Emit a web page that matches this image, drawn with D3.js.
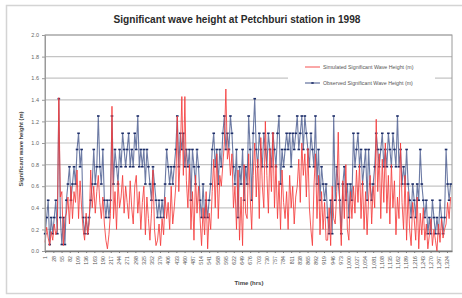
<!DOCTYPE html>
<html>
<head>
<meta charset="utf-8">
<script src="https://cdn.jsdelivr.net/npm/d3@7"></script>
<style>
  body { margin: 0; background: #fff; }
  svg { display: block; font-family: "Liberation Sans", Arial, sans-serif; }
</style>
</head>
<body>
<svg id="chart" width="462" height="298"></svg>
<script>
// hourly record, every 5 hours
const hours = d3.range(1, 1341, 5);

const observed = [
  0.16,0.31,0.47,0.06,0.31,0.16,0.31,0.47,0.16,
  1.41,0.31,
  0.06,0.31,0.06,
  0.47,0.62,0.78,0.47,0.62,0.78,
  0.62,0.94,1.09,0.78,0.94,
  0.31,0.16,0.31,0.16,0.31,
  0.47,0.62,0.94,0.62,0.78,
  1.25,
  0.78,0.62,0.94,
  0.47,0.31,0.47,0.31,0.47,
  1.25,
  0.62,0.94,0.78,0.62,0.94,
  0.78,1.09,0.94,0.78,0.94,1.09,0.78,
  0.94,0.78,1.09,0.94,1.25,0.78,0.94,0.78,0.94,
  0.62,0.94,0.78,0.62,
  0.47,0.78,0.62,0.47,
  0.31,0.47,0.31,0.47,0.31,
  0.62,0.94,0.78,0.62,0.78,0.62,0.78,
  0.94,1.25,0.78,1.09,0.94,1.09,0.78,0.94,
  0.78,0.94,0.47,0.94,0.78,0.62,0.94,0.78,
  0.47,0.31,0.62,0.31,0.47,0.31,0.47,0.62,
  0.94,1.09,0.78,0.94,0.62,0.94,0.78,
  1.09,1.25,0.94,1.09,0.94,1.25,1.09,
  0.78,0.62,0.94,0.31,0.78,0.62,0.94,0.47,0.78,
  0.62,1.25,0.94,0.47,1.09,
  1.41,
  0.94,0.78,1.09,0.94,0.78,1.09,0.94,
  0.78,1.09,0.94,0.78,1.09,0.94,0.78,1.09,1.25,
  0.62,0.94,0.78,
  0.94,1.09,0.94,1.09,0.78,1.09,0.94,1.09,
  1.25,0.94,1.09,1.25,0.94,1.25,1.09,0.94,
  0.78,1.09,0.94,0.78,1.25,
  0.62,0.94,0.47,0.78,0.62,0.47,0.62,
  0.31,0.16,0.47,0.16,1.25,
  0.47,0.78,0.62,0.47,0.16,0.62,0.78,0.47,0.62,
  0.31,0.62,0.47,
  1.09,0.78,0.94,1.09,0.78,
  0.94,0.62,0.78,0.94,
  0.47,0.94,0.62,0.47,0.62,
  0.78,1.09,0.94,0.78,0.94,1.09,0.78,0.94,0.78,1.09,
  0.94,0.78,1.09,0.94,0.78,1.25,
  0.78,0.94,0.62,0.78,0.62,0.94,0.62,
  0.47,0.31,0.62,0.47,0.31,0.62,0.47,0.94,0.62,0.47,
  0.31,0.47,0.16,0.31,0.16,0.47,0.31,0.16,0.31,0.16,0.47,0.31,0.16,0.31,
  0.94,0.62,0.47,0.62
];

const simulated = [
  0.08,0.22,0.12,0.05,0.18,0.10,0.25,0.15,0.20,
  1.42,0.50,
  0.55,0.05,0.30,
  0.35,0.50,0.25,0.60,0.30,0.55,
  0.45,0.75,0.30,0.65,0.40,
  0.20,0.10,0.35,0.15,0.25,
  0.75,0.40,0.60,0.35,0.55,
  0.70,
  0.45,0.30,0.50,
  0.25,0.10,0.02,0.15,0.35,
  1.34,
  0.30,0.55,0.20,0.65,0.40,
  0.50,0.70,0.35,0.60,0.45,0.30,0.65,
  0.40,0.25,0.60,0.70,0.35,0.55,0.20,0.45,0.60,
  0.15,0.50,0.30,0.10,
  0.35,0.75,0.20,0.05,
  0.10,0.25,0.05,0.30,0.15,
  0.50,0.30,0.45,0.20,0.60,0.25,0.40,
  0.60,1.25,0.55,0.90,1.43,0.70,1.43,0.65,
  0.40,0.80,0.20,0.55,0.10,0.70,0.35,0.60,
  0.30,0.05,0.40,0.15,0.55,0.02,0.35,0.20,
  0.55,0.85,0.40,0.90,0.30,0.70,0.60,
  0.80,1.00,1.50,0.85,0.95,0.70,0.90,
  0.40,0.60,0.20,0.75,0.10,0.50,0.05,0.80,0.35,
  0.30,0.90,0.50,0.20,0.70,
  1.00,
  0.50,0.85,0.30,1.05,0.60,0.40,1.20,
  0.70,0.35,0.95,0.55,1.10,0.40,0.80,0.30,0.65,
  0.20,0.75,0.45,
  0.30,0.55,0.20,0.70,0.40,0.60,0.25,0.50,
  0.60,0.85,0.45,1.00,0.70,0.90,0.50,0.95,
  0.40,0.20,0.05,0.60,0.90,
  0.30,0.70,0.15,0.55,0.20,0.45,0.10,
  0.10,0.40,0.05,0.60,0.30,
  0.25,0.55,1.10,0.40,0.05,0.65,0.30,0.80,0.20,
  0.10,0.55,0.30,
  0.60,0.35,0.75,0.45,0.80,
  0.30,0.65,0.20,0.55,
  0.15,0.50,0.70,0.25,0.60,
  0.40,1.22,0.55,0.90,0.30,0.85,0.45,1.00,0.35,0.70,
  0.25,0.80,0.40,0.65,0.15,0.50,
  0.30,1.00,0.45,0.20,0.70,0.10,0.55,
  0.20,0.05,0.45,0.30,0.10,0.50,0.02,0.35,0.15,0.40,
  0.10,0.25,0.02,0.15,0.30,0.05,0.20,0.10,0.00,0.25,0.08,0.30,0.12,0.20,
  0.25,0.45,0.30,0.50
];

const xLabels = d3.range(1, 1325, 27);
const yTicks = [0, 0.2, 0.4, 0.6, 0.8, 1.0, 1.2, 1.4, 1.6, 1.8, 2.0];
const seriesNames = ["Simulated Significant Wave Height (m)", "Observed Significant Wave Height (m)"];

const svg = d3.select("#chart");
const plot = {left: 45, right: 452, top: 35, bottom: 251};

let x = d3.scaleLinear().domain([0.5, 1340.5]).range([plot.left, plot.right]);
let y = d3.scaleLinear().domain([0, 2]).range([plot.bottom, plot.top]);

// soft edge, the source is a scanned image
svg.append("defs").append("filter").attr("id", "soft")
    .append("feGaussianBlur").attr("stdDeviation", 0.35);

// outer frame
svg.append("rect")
    .attr("x", 6.5).attr("y", 5.5).attr("width", 460).attr("height", 288)
    .attr("fill", "#fff").attr("stroke", "#d4d4d4").attr("stroke-width", 1.5);

// gridlines
svg.append("g")
    .selectAll("line")
    .data(yTicks.slice(1))
    .join("line")
    .attr("x1", plot.left).attr("x2", plot.right)
    .attr("y1", d => y(d)).attr("y2", d => y(d))
    .attr("stroke", "#c4c4c4").attr("stroke-width", 1.2);

// plot border
svg.append("rect")
    .attr("x", plot.left).attr("y", plot.top)
    .attr("width", plot.right - plot.left).attr("height", plot.bottom - plot.top)
    .attr("fill", "none").attr("stroke", "#9a9a9a").attr("stroke-width", 1);

let line = d3.line()
    .x((d, i) => x(hours[i]))
    .y(d => y(d));

let marks = svg.append("g").attr("filter", "url(#soft)");

// observed series
marks.append("path")
    .datum(observed)
    .attr("fill", "none")
    .attr("stroke", "#2d427e")
    .attr("stroke-opacity", 0.7)
    .attr("stroke-width", 1.1)
    .attr("d", line);

marks.append("g")
    .selectAll("rect")
    .data(observed)
    .join("rect")
    .attr("x", (d, i) => x(hours[i]) - 1.3)
    .attr("y", d => y(d) - 0.8)
    .attr("width", 2.6).attr("height", 1.6)
    .attr("fill", "#1d2d68");

// simulated series
marks.append("path")
    .datum(simulated)
    .attr("fill", "none")
    .attr("stroke", "#f43c3c")
    .attr("stroke-opacity", 0.85)
    .attr("stroke-width", 1.0)
    .attr("d", line);

// axes
let yAxis = svg.append("g")
    .attr("transform", `translate(${plot.left},0)`)
    .call(d3.axisLeft(y).tickValues(yTicks).tickFormat(d3.format(".1f")).tickSize(3));
yAxis.select(".domain").attr("stroke", "#9a9a9a");
yAxis.selectAll(".tick line").attr("stroke", "#9a9a9a");
yAxis.selectAll("text")
    .attr("font-size", 5.5).attr("fill", "#666").attr("x", -6);

let xAxis = svg.append("g")
    .attr("transform", `translate(0,${plot.bottom})`)
    .call(d3.axisBottom(x).tickValues(xLabels).tickSize(2).tickSizeOuter(0));
xAxis.select(".domain").attr("stroke", "#7a7a7a").attr("stroke-width", 1.5);
xAxis.selectAll(".tick line").attr("stroke", "#7a7a7a");
xAxis.selectAll("text")
    .attr("font-size", 5.2).attr("fill", "#555")
    .attr("text-anchor", "end")
    .attr("transform", "rotate(-90)")
    .attr("x", -5).attr("y", 0).attr("dy", "0.35em");

// titles
svg.append("text")
    .attr("x", 237).attr("y", 23)
    .attr("text-anchor", "middle")
    .attr("font-family", "'Liberation Sans Narrow', 'Liberation Sans', sans-serif")
    .attr("font-weight", "bold").attr("font-size", 11).attr("fill", "#2b2b2b")
    .attr("textLength", 247).attr("lengthAdjust", "spacingAndGlyphs")
    .text("Significant wave height at Petchburi station in 1998");

svg.append("text")
    .attr("transform", "translate(23,149) rotate(-90)")
    .attr("text-anchor", "middle")
    .attr("font-weight", "bold").attr("font-size", 5.8).attr("fill", "#444")
    .text("Significant wave height (m)");

svg.append("text")
    .attr("x", 249).attr("y", 285)
    .attr("text-anchor", "middle")
    .attr("font-weight", "bold").attr("font-size", 6).attr("fill", "#444")
    .text("Time (hrs)");

// legend
let legend = svg.append("g");
legend.append("rect")
    .attr("x", 288).attr("y", 59).attr("width", 147).attr("height", 37)
    .attr("fill", "#fff");
let items = legend.selectAll("g")
    .data(seriesNames)
    .join("g")
    .attr("transform", (d, i) => `translate(305,${67 + i * 16})`);
items.append("line")
    .attr("x1", 0).attr("x2", 15)
    .attr("stroke", (d, i) => i === 0 ? "#f43c3c" : "#2d427e")
    .attr("stroke-width", 0.9);
items.filter((d, i) => i === 1).append("rect")
    .attr("x", 6.3).attr("y", -0.8).attr("width", 2.4).attr("height", 1.6)
    .attr("fill", "#1d2d68");
items.append("text")
    .attr("x", 18).attr("dy", "0.35em")
    .attr("font-size", 5.3).attr("fill", "#555")
    .text(d => d);
</script>
</body>
</html>
